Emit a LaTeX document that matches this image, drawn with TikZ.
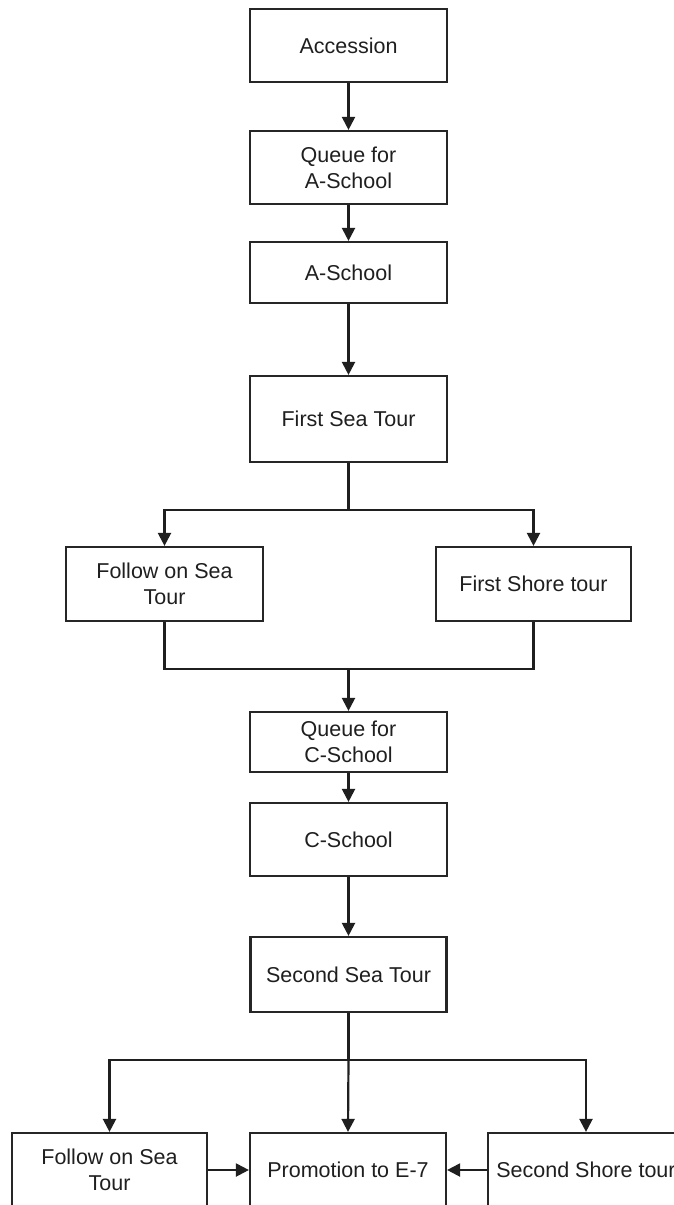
\documentclass[tikz,border=0pt]{standalone}
\usepackage{fontspec}
\setmainfont{Liberation Sans}
\usetikzlibrary{arrows.meta}
\begin{document}
\begin{tikzpicture}[x=1pt,y=-1pt,
  stagebox/.style={draw=black!85, line width=2.2pt, fill=white, inner sep=0pt,
    align=center, text=black!88, font=\fontsize{21.5}{26}\selectfont,
    minimum width=197pt},
  flow/.style={draw=black!88, line width=2.2pt},
  flowarrow/.style={flow, -{Triangle[length=13pt,width=13pt]}}]
\clip (0,0) rectangle (674,1205);
\fill[white] (0,0) rectangle (674,1205);

% main column of stages
\node[stagebox, minimum height=73pt] (acc) at (348.5,45.5) {Accession};
\node[stagebox, minimum height=73pt] (qa) at (348.5,167.5) {Queue for\\A-School};
\node[stagebox, minimum height=61pt] (as) at (348.5,272.5) {A-School};
\node[stagebox, minimum height=86pt] (fst) at (348.5,419) {First Sea Tour};

% first split
\node[stagebox, minimum height=74pt] (fos) at (164.5,584) {Follow on Sea\\Tour};
\node[stagebox, minimum height=74pt, minimum width=195pt] (fsh) at (533.5,584) {First Shore tour};

\node[stagebox, minimum height=60pt] (qc) at (348.5,742) {Queue for\\C-School};
\node[stagebox, minimum height=73pt] (cs) at (348.5,839.5) {C-School};
\node[stagebox, minimum height=75pt, minimum width=196pt] (sst) at (348.5,974.5) {Second Sea Tour};

% final row
\node[stagebox, minimum height=74pt, minimum width=195pt] (fos2) at (109.5,1170) {Follow on Sea\\Tour};
\node[stagebox, minimum height=74pt, minimum width=196pt] (prom) at (348,1170) {Promotion to E-7};
\node[stagebox, minimum height=74pt, minimum width=196pt] (ssh) at (586,1170) {Second Shore tour};

% junction points
\coordinate (j1) at (348.5,510);
\coordinate (j2) at (348.5,669);
\coordinate (j3) at (348.5,1060);

% connectors
\draw[flowarrow] (acc.south) -- (qa.north);
\draw[flowarrow] (qa.south) -- (as.north);
\draw[flowarrow] (as.south) -- (fst.north);

\draw[flow] (fst.south) -- (j1);
\draw[flowarrow] (j1) -| (fos.north);
\draw[flowarrow] (j1) -| (fsh.north);

\draw[flow] (fos.south) |- (j2);
\draw[flow] (fsh.south) |- (j2);
\draw[flowarrow] (j2) -- (qc.north);

\draw[flowarrow] (qc.south) -- (cs.north);
\draw[flowarrow] (cs.south) -- (sst.north);

\draw[flow] (sst.south) -- (j3);
\draw[flowarrow] (j3) -| (fos2.north);
\draw[flowarrow] (j3) -- (prom.north);
\draw[flowarrow] (j3) -| (ssh.north);

\draw[flowarrow] (fos2.east) -- (prom.west);
\draw[flowarrow] (ssh.west) -- (prom.east);
\end{tikzpicture}
\end{document}
